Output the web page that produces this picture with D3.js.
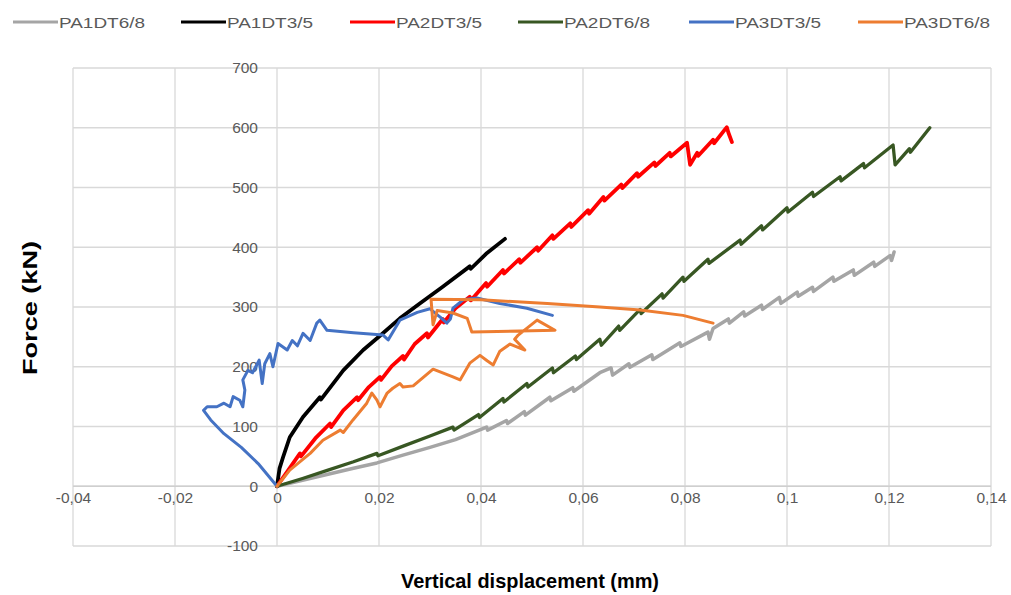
<!DOCTYPE html>
<html>
<head>
<meta charset="utf-8">
<script src="https://cdn.jsdelivr.net/npm/d3@7"></script>
<style>
  body { margin: 0; background: #ffffff; }
  text { font-family: "Liberation Sans", Arial, sans-serif; }
</style>
</head>
<body>
<svg id="chart" width="1011" height="595"></svg>
<script>
// Series labels and colours (legend order = drawing order)
const seriesNames = ["PA1DT6/8", "PA1DT3/5", "PA2DT3/5", "PA2DT6/8", "PA3DT3/5", "PA3DT6/8"];
const seriesColors = ["#a5a5a5", "#000000", "#ff0000", "#385723", "#4472c4", "#ed7d31"];

// [vertical displacement (mm), force (kN)]
const pa1dt68 = [[0,0],[0.005,10],[0.01,20],[0.015,30],[0.0196,39],[0.0247,52],[0.03,65],[0.035,78],[0.0411,99],
  [0.0413,94],[0.045,110],[0.0452,105],[0.0485,125],[0.0487,119],[0.0535,149],[0.0537,143],[0.058,165],[0.0582,159],
  [0.0633,190],[0.0655,198],[0.0658,186],[0.069,205],[0.0692,199],[0.0735,220],[0.0737,212],[0.079,240],[0.0792,234],
  [0.0845,258],[0.0848,246],[0.0855,264],[0.0885,280],[0.0887,273],[0.0915,292],[0.0917,285],[0.095,303],[0.0952,296],
  [0.0985,316],[0.0988,306],[0.102,325],[0.1022,318],[0.105,333],[0.1052,326],[0.109,350],[0.1092,343],[0.113,362],
  [0.1132,353],[0.117,375],[0.1172,368],[0.1202,386],[0.1205,378],[0.121,392]];

const pa1dt35 = [[0,0],[0.0005,30],[0.0012,49],[0.0025,82],[0.0051,116],[0.0084,149],[0.0086,145],[0.013,194],
  [0.0169,228],[0.0202,252],[0.0241,281],[0.028,306],[0.0325,334],[0.0378,368],[0.038,364],[0.041,389],[0.0447,414]];

const pa2dt35 = [[0,0],[0.0045,55],[0.0047,50],[0.0075,80],[0.0104,105],[0.0106,99],[0.013,127],[0.0157,149],
  [0.0159,144],[0.018,166],[0.0202,183],[0.0204,178],[0.0225,201],[0.0247,218],[0.0249,212],[0.027,238],
  [0.0294,256],[0.0296,249],[0.0325,280],[0.0327,274],[0.035,298],[0.0378,317],[0.038,311],[0.041,340],
  [0.0412,334],[0.0443,362],[0.0445,356],[0.0475,380],[0.0477,374],[0.051,400],[0.0512,394],[0.054,420],
  [0.0542,414],[0.0575,440],[0.0577,434],[0.061,462],[0.0612,456],[0.064,484],[0.0642,478],[0.0675,505],
  [0.0677,499],[0.0706,524],[0.0708,518],[0.074,542],[0.0742,536],[0.077,558],[0.0772,552],[0.0804,575],
  [0.081,538],[0.0824,558],[0.0826,553],[0.0855,580],[0.0857,574],[0.0882,601],[0.0885,592],[0.0892,576]];

const pa2dt68 = [[0,0],[0.005,13],[0.01,27],[0.015,41],[0.0196,55],[0.0198,51],[0.025,68],[0.03,84],[0.0345,99],
  [0.0347,94],[0.0395,120],[0.0397,115],[0.0443,147],[0.0445,141],[0.049,172],[0.0492,166],[0.054,198],[0.0542,190],
  [0.0585,218],[0.0587,212],[0.0633,246],[0.0636,236],[0.067,268],[0.0672,261],[0.0712,296],[0.0714,289],
  [0.0755,322],[0.0757,315],[0.0796,350],[0.0798,343],[0.0845,380],[0.0847,373],[0.0908,412],[0.091,405],
  [0.095,436],[0.0952,429],[0.1,466],[0.1002,459],[0.105,492],[0.1052,485],[0.1104,518],[0.1106,511],
  [0.115,540],[0.1152,533],[0.1208,571],[0.1212,538],[0.124,565],[0.1242,559],[0.128,600]];

const pa3dt35 = [[0,0],[-0.0037,38],[-0.007,65],[-0.0104,88],[-0.013,111],[-0.0144,127],[-0.0137,133],
  [-0.0118,133],[-0.0104,139],[-0.0092,133],[-0.0086,150],[-0.0073,144],[-0.0067,133],[-0.0063,161],
  [-0.0067,178],[-0.0057,194],[-0.0048,190],[-0.0035,211],[-0.0029,172],[-0.0024,205],[-0.0014,222],
  [-0.0008,200],[0.0002,239],[0.002,228],[0.003,244],[0.004,235],[0.0051,256],[0.0065,244],[0.0078,273],
  [0.0084,278],[0.0098,261],[0.015,257],[0.0208,253],[0.0218,245],[0.0241,278],[0.0275,291],[0.03,297],
  [0.032,283],[0.0333,273],[0.034,280],[0.0345,298],[0.0365,312],[0.0392,315],[0.0437,306],[0.049,298],
  [0.054,286]];

const pa3dt68 = [[0,0],[0.0025,27],[0.0065,55],[0.009,77],[0.0124,94],[0.013,90],[0.0149,111],[0.0176,139],
  [0.0186,156],[0.0196,144],[0.0202,133],[0.0216,156],[0.0227,164],[0.0241,172],[0.0247,166],[0.0267,168],
  [0.0306,196],[0.0345,183],[0.0359,178],[0.0378,206],[0.0398,219],[0.0412,210],[0.0424,203],[0.0437,226],
  [0.0457,238],[0.0486,228],[0.0466,246],[0.0473,253],[0.051,278],[0.0545,261],[0.0382,258],[0.0373,281],
  [0.0345,290],[0.0314,294],[0.0306,270],[0.0302,313],[0.04,312],[0.053,306],[0.0633,300],[0.0712,295],
  [0.0796,286],[0.0855,273]];

const seriesData = [pa1dt68, pa1dt35, pa2dt35, pa2dt68, pa3dt35, pa3dt68];

// Axis ticks
const xTickValues = [-0.04, -0.02, 0, 0.02, 0.04, 0.06, 0.08, 0.1, 0.12, 0.14];
const xTickLabels = ["-0,04", "-0,02", "0", "0,02", "0,04", "0,06", "0,08", "0,1", "0,12", "0,14"];
const yTickValues = [-100, 0, 100, 200, 300, 400, 500, 600, 700];
const yTickLabels = ["-100", "0", "100", "200", "300", "400", "500", "600", "700"];

const xTitle = "Vertical displacement (mm)";
const yTitle = "Force (kN)";

const svg = d3.select("#chart");
const plot = { left: 73, right: 991, top: 68, bottom: 546 };

const x = d3.scaleLinear().domain([-0.04, 0.14]).range([plot.left, plot.right]);
const y = d3.scaleLinear().domain([-100, 700]).range([plot.bottom, plot.top]);

// Gridlines
const grid = svg.append("g").attr("stroke", "#d9d9d9").attr("stroke-width", 1.3);
grid.selectAll("line.v").data(xTickValues).join("line")
  .attr("class", "v")
  .attr("x1", d => x(d)).attr("x2", d => x(d))
  .attr("y1", plot.top).attr("y2", plot.bottom);
grid.selectAll("line.h").data(yTickValues).join("line")
  .attr("class", "h")
  .attr("x1", plot.left).attr("x2", plot.right)
  .attr("y1", d => y(d)).attr("y2", d => y(d));

// Axis line through zero force
svg.append("line")
  .attr("x1", plot.left).attr("x2", plot.right)
  .attr("y1", y(0)).attr("y2", y(0))
  .attr("stroke", "#cfcfcf").attr("stroke-width", 1.3);

// X axis labels sit just below the zero-force line
const xAxis = d3.axisBottom(x)
  .tickValues(xTickValues)
  .tickFormat((d, i) => xTickLabels[i])
  .tickSize(0).tickPadding(6);
const gx = svg.append("g").attr("transform", `translate(0,${y(0)})`).call(xAxis);
gx.select(".domain").remove();
gx.selectAll("text").attr("fill", "#595959").style("font-size", "15.5px")
  .style("font-family", '"Liberation Sans", Arial, sans-serif');

// Y axis labels sit left of the zero-displacement line
const yAxis = d3.axisLeft(y)
  .tickValues(yTickValues)
  .tickFormat((d, i) => yTickLabels[i])
  .tickSize(0).tickPadding(19);
const gy = svg.append("g").attr("transform", `translate(${x(0)},0)`).call(yAxis);
gy.select(".domain").remove();
gy.selectAll("text").attr("fill", "#595959").style("font-size", "15.5px")
  .style("font-family", '"Liberation Sans", Arial, sans-serif');

// Curves
const line = d3.line().x(d => x(d[0])).y(d => y(d[1]));
const widths = [3.5, 3.8, 3.8, 3.3, 3, 3];
svg.append("g").selectAll("path").data(seriesData).join("path")
  .attr("d", d => line(d))
  .attr("fill", "none")
  .attr("stroke", (d, i) => seriesColors[i])
  .attr("stroke-width", (d, i) => widths[i])
  .attr("stroke-linejoin", "round")
  .attr("stroke-linecap", "round");

// Legend
const legendX = [13, 181, 350, 518, 689, 858];
const legend = svg.append("g");
seriesNames.forEach((name, i) => {
  legend.append("line")
    .attr("x1", legendX[i]).attr("x2", legendX[i] + 45)
    .attr("y1", 22).attr("y2", 22)
    .attr("stroke", seriesColors[i]).attr("stroke-width", 3);
  legend.append("text")
    .attr("x", legendX[i] + 46).attr("y", 27.5)
    .attr("fill", "#595959")
    .style("font-size", "15px")
    .attr("textLength", 86).attr("lengthAdjust", "spacingAndGlyphs")
    .text(name);
});

// Axis titles
svg.append("text")
  .attr("x", 530).attr("y", 588)
  .attr("text-anchor", "middle")
  .attr("fill", "#000")
  .style("font-size", "21px").style("font-weight", "bold")
  .attr("textLength", 258).attr("lengthAdjust", "spacingAndGlyphs")
  .text(xTitle);

svg.append("text")
  .attr("transform", "translate(37,308) rotate(-90)")
  .attr("text-anchor", "middle")
  .attr("fill", "#000")
  .style("font-size", "21px").style("font-weight", "bold")
  .attr("textLength", 134).attr("lengthAdjust", "spacingAndGlyphs")
  .text(yTitle);
</script>
</body>
</html>
